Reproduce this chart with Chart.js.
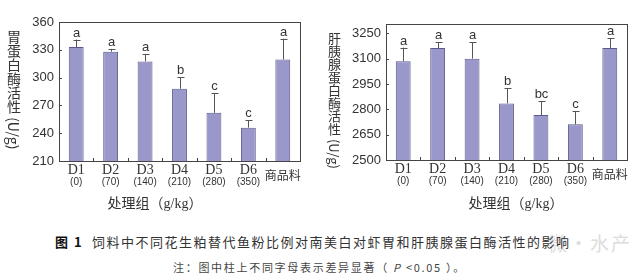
<!DOCTYPE html>
<html><head><meta charset="utf-8">
<script src="https://cdn.jsdelivr.net/npm/chart.js@4.4.1/dist/chart.umd.min.js"></script>
<style>
html,body{margin:0;padding:0;background:#fff;}
body{width:640px;height:278px;position:relative;overflow:hidden;font-family:"Noto Sans CJK SC",sans-serif;}
.cv{position:absolute;top:0;width:320px;height:195px;}
.ytitle{position:absolute;writing-mode:vertical-rl;font-family:"Noto Sans CJK SC",sans-serif;color:#333;line-height:1;white-space:nowrap;}
.xtitle{position:absolute;font-family:"Liberation Serif","Noto Sans CJK SC",serif;color:#333;font-size:14px;white-space:nowrap;transform:translate(-50%,-50%);}
#cap{position:absolute;left:55px;top:232px;font-size:13px;color:#333;white-space:nowrap;letter-spacing:1.5px;}
#note{position:absolute;left:173px;top:259px;font-size:11px;color:#444;white-space:nowrap;letter-spacing:1.7px;}
#wm{position:absolute;left:548px;top:229px;font-size:19px;color:#ddd;white-space:nowrap;letter-spacing:2px;}
</style></head>
<body>
<div class="cv" style="left:0"><canvas id="c1" width="320" height="195"></canvas></div>
<div class="cv" style="left:320px"><canvas id="c2" width="320" height="195"></canvas></div>
<div class="ytitle" style="left:7px;top:30px;font-size:14px;">胃蛋白酶活性 (U/g)</div>
<div class="ytitle" style="left:328px;top:32px;font-size:13px;">肝胰腺蛋白酶活性 (U/g)</div>
<div class="xtitle" style="left:155px;top:202px;">处理组（g/kg）</div>
<div class="xtitle" style="left:516px;top:202px;">处理组（g/kg）</div>
<div id="wm">微·水产</div>
<div id="cap"><b style="color:#111">图 1</b>&nbsp;&nbsp;饲料中不同花生粕替代鱼粉比例对南美白对虾胃和肝胰腺蛋白酶活性的影响</div>
<div id="note">注：图中柱上不同字母表示差异显著（ <i>P</i> &lt;0.05 ）。</div>
<script>
const categories = ['D1','D2','D3','D4','D5','D6','商品料'];
const doses = ['(0)','(70)','(140)','(210)','(280)','(350)',''];
const pepsin = [333, 328, 317.5, 288, 262, 246, 319.5];
const pepsinErr = [8, 3, 8, 12.5, 21.5, 8, 22.5];
const pepsinSig = ['a','a','a','b','c','c','a'];
const pepsinTicks = [210, 240, 270, 300, 330, 360];
const trypsin = [3085, 3163, 3100, 2835, 2766, 2711, 3163];
const trypsinErr = [80, 34, 97, 89, 83, 77, 57];
const trypsinSig = ['a','a','a','b','bc','c','a'];
const trypsinTicks = [2500, 2650, 2800, 2950, 3100, 3250];

function makeChart(id, values, errs, sigs, yMin, yMax, tickVals, geo){
  const deco = {
    id:'deco',
    afterDatasetsDraw(chart){
      const ctx = chart.ctx, xs = chart.scales.x, ys = chart.scales.y, a = chart.chartArea;
      ctx.save();
      ctx.strokeStyle = '#555'; ctx.lineWidth = 1;
      values.forEach((v,i)=>{
        const x = Math.round(xs.getPixelForValue(i)) + 0.5;
        const y0 = ys.getPixelForValue(v), y1 = ys.getPixelForValue(v + errs[i]);
        ctx.beginPath(); ctx.moveTo(x, y0); ctx.lineTo(x, y1);
        ctx.moveTo(x - 3, Math.round(y1)+0.5); ctx.lineTo(x + 4, Math.round(y1)+0.5); ctx.stroke();
        ctx.fillStyle = '#333'; ctx.font = '13px "Liberation Sans", Arial, sans-serif';
        ctx.textAlign = 'center'; ctx.textBaseline = 'alphabetic';
        ctx.fillText(sigs[i], x, y1 - 3);
      });
      ctx.strokeStyle = '#444';
      ctx.strokeRect(Math.round(a.left)+0.5, Math.round(a.top)+0.5, Math.round(a.right-a.left), Math.round(a.bottom-a.top));
      ys.ticks.forEach(t=>{
        const y = Math.round(ys.getPixelForValue(t.value))+0.5;
        ctx.beginPath(); ctx.moveTo(a.left, y); ctx.lineTo(a.left+3, y); ctx.stroke();
      });
      for(let i=1;i<categories.length;i++){
        const x = Math.round((xs.getPixelForValue(i-1)+xs.getPixelForValue(i))/2)+0.5;
        ctx.beginPath(); ctx.moveTo(x, a.bottom); ctx.lineTo(x, a.bottom-3); ctx.stroke();
      }
      categories.forEach((c,i)=>{
        const x = xs.getPixelForValue(i);
        ctx.fillStyle = '#333'; ctx.textAlign = 'center'; ctx.textBaseline = 'middle';
        if(doses[i]){
          ctx.font = '14px "Liberation Serif", "Times New Roman", serif';
          ctx.fillText(c, x, a.bottom + 9);
          ctx.font = '10px "Liberation Sans", Arial, sans-serif';
          ctx.fillText(doses[i], x, a.bottom + 21);
        } else {
          ctx.font = '12px "Noto Sans CJK SC", sans-serif';
          ctx.fillText(c, x, a.bottom + 14);
        }
      });
      ctx.restore();
    }
  };
  return new Chart(document.getElementById(id), {
    type:'bar',
    data:{labels:categories, datasets:[{data:values, backgroundColor:'#9a97cb', borderColor:'#5a5a8c', borderWidth:{left:1,right:1,top:1,bottom:0}, barPercentage:0.9, categoryPercentage:0.48}]},
    options:{
      responsive:false, animation:false, devicePixelRatio:1,
      layout:{padding:{top:geo.top, right:geo.right, left:0, bottom:0}},
      plugins:{legend:{display:false}, tooltip:{enabled:false}},
      scales:{
        x:{grid:{display:false}, border:{display:false}, ticks:{display:false},
           afterFit:s=>{s.height = geo.xh;}},
        y:{min:yMin, max:yMax, grid:{display:false, drawTicks:false}, border:{display:false},
           ticks:{padding:5, color:'#333', font:{family:'"Liberation Sans", Arial, sans-serif', size:13},
                  callback:v=>String(v)},
           afterBuildTicks:s=>{s.ticks = tickVals.map(v=>({value:v}));},
           afterFit:s=>{s.width = geo.yw;}}
      }
    },
    plugins:[deco]
  });
}
makeChart('c1', pepsin, pepsinErr, pepsinSig, 210, 360, pepsinTicks, {top:22, right:20, xh:34, yw:59});
makeChart('c2', trypsin, trypsinErr, trypsinSig, 2500, 3305, trypsinTicks, {top:24, right:13, xh:35, yw:66});
</script>
</body></html>
